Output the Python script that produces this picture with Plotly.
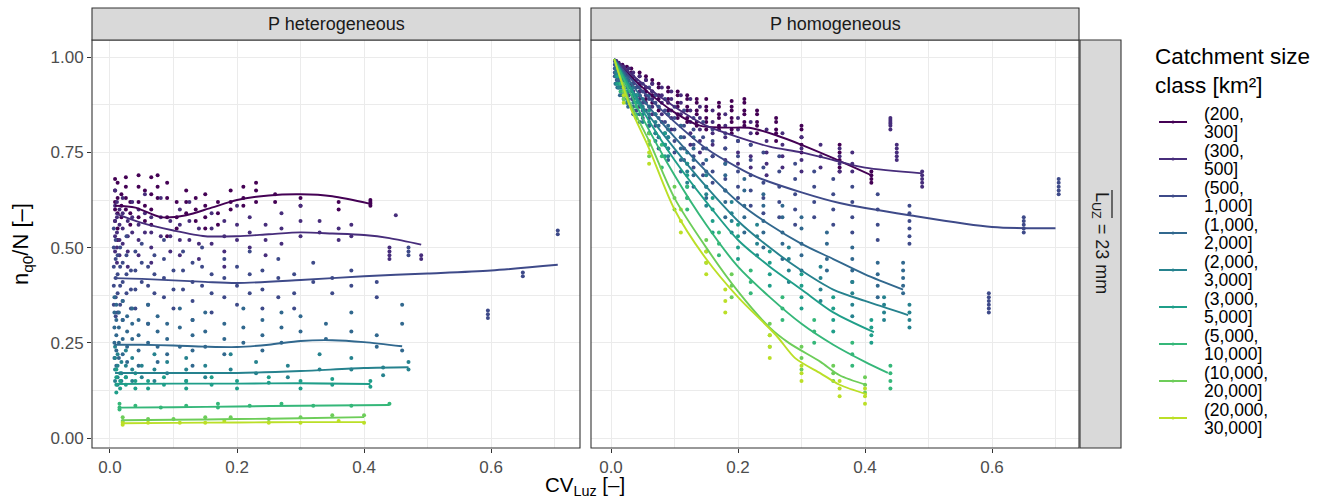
import plotly.graph_objects as go

# ---------------- data ----------------
class_lines1 = ["(200,", "(300,", "(500,", "(1,000,", "(2,000,", "(3,000,", "(5,000,", "(10,000,", "(20,000,"]
class_lines2 = ["300]", "500]", "1,000]", "2,000]", "3,000]", "5,000]", "10,000]", "20,000]", "30,000]"]
colors = ["#440154", "#472D7B", "#3E4A89", "#31688E", "#26828E", "#1F9E89", "#35B779", "#6DCD59", "#BBDF27"]

# class 1 (200,300]
c1_x = [0.008, 0.012, 0.018, 0.025, 0.032, 0.045, 0.055, 0.065, 0.075, 0.09, 0.105, 0.12, 0.135, 0.15, 0.17,
        0.19, 0.21, 0.23, 0.26, 0.30, 0.36, 0.41]
c1_het = [[0.68, 0.65, 0.62, 0.60, 0.57], [0.67, 0.63, 0.59, 0.55, 0.52], [0.64, 0.61, 0.58],
          [0.685, 0.66, 0.63, 0.60], [0.62, 0.59, 0.56], [0.69, 0.66, 0.62, 0.58], [0.65, 0.61, 0.57],
          [0.685, 0.64, 0.60, 0.56], [0.69, 0.66, 0.63], [0.67, 0.63, 0.58, 0.53], [0.62, 0.58, 0.55],
          [0.65, 0.62, 0.59], [0.63, 0.60, 0.57], [0.64, 0.61, 0.58, 0.55], [0.62, 0.59, 0.56], [0.65, 0.62, 0.60],
          [0.66, 0.63, 0.61], [0.67, 0.65, 0.62], [0.64, 0.62], [0.63, 0.61], [0.62, 0.60],
          [0.625, 0.62, 0.615, 0.61]]
c1_hom = [[0.99, 0.985, 0.98, 0.97, 0.96], [0.985, 0.98, 0.97, 0.96, 0.95], [0.98, 0.97, 0.96, 0.95, 0.94],
          [0.975, 0.965, 0.955, 0.94, 0.93], [0.97, 0.96, 0.95, 0.93, 0.92], [0.96, 0.95, 0.93, 0.92, 0.90],
          [0.95, 0.94, 0.92, 0.91, 0.89], [0.94, 0.93, 0.91, 0.90, 0.88], [0.93, 0.92, 0.90, 0.89, 0.87, 0.86],
          [0.92, 0.91, 0.89, 0.88, 0.86, 0.85], [0.91, 0.90, 0.88, 0.87, 0.85, 0.84],
          [0.90, 0.89, 0.87, 0.86, 0.84, 0.83], [0.89, 0.88, 0.86, 0.85, 0.83, 0.82],
          [0.89, 0.87, 0.86, 0.84, 0.83, 0.81], [0.88, 0.87, 0.85, 0.84, 0.82, 0.81],
          [0.885, 0.87, 0.86, 0.84, 0.83, 0.81, 0.80], [0.89, 0.88, 0.86, 0.85, 0.83, 0.82],
          [0.86, 0.85, 0.83, 0.82, 0.80], [0.84, 0.83, 0.81, 0.80, 0.78], [0.82, 0.81, 0.79, 0.77, 0.75],
          [0.77, 0.75, 0.73, 0.71, 0.70], [0.70, 0.69, 0.68, 0.67]]

# class 2 (300,500]
c2_x = [0.008, 0.011, 0.015, 0.02, 0.028, 0.035, 0.045, 0.055, 0.065, 0.08, 0.095, 0.11, 0.125, 0.14, 0.16, 0.18,
        0.20, 0.22, 0.245, 0.27, 0.30, 0.33, 0.36, 0.38, 0.44, 0.45, 0.49]
c2_het = [[0.65, 0.61, 0.57, 0.53, 0.49], [0.62, 0.58, 0.54, 0.50, 0.46], [0.60, 0.56, 0.52, 0.48],
          [0.63, 0.59, 0.55, 0.51], [0.57, 0.53, 0.49, 0.45], [0.62, 0.58, 0.54], [0.60, 0.56, 0.52, 0.48],
          [0.64, 0.59, 0.54], [0.58, 0.54, 0.50, 0.46], [0.63, 0.58, 0.53], [0.57, 0.53, 0.49],
          [0.60, 0.56, 0.52, 0.48], [0.62, 0.57, 0.52], [0.55, 0.51, 0.47], [0.59, 0.55, 0.51],
          [0.57, 0.53, 0.49, 0.45], [0.61, 0.56, 0.52], [0.58, 0.54, 0.50], [0.56, 0.52, 0.48],
          [0.59, 0.55, 0.51], [0.61, 0.57, 0.53], [0.57, 0.54], [0.55, 0.52], [0.56, 0.53],
          [0.50, 0.49, 0.48, 0.47], [0.585], [0.48, 0.47]]
c2_hom = [[0.99, 0.98, 0.97, 0.96, 0.95], [0.985, 0.975, 0.96, 0.95, 0.94], [0.98, 0.97, 0.955, 0.94, 0.93],
          [0.975, 0.96, 0.95, 0.93, 0.92], [0.97, 0.95, 0.94, 0.92, 0.90], [0.96, 0.95, 0.93, 0.91, 0.89],
          [0.95, 0.93, 0.91, 0.89, 0.87], [0.94, 0.92, 0.90, 0.88, 0.86], [0.93, 0.91, 0.89, 0.87, 0.85],
          [0.92, 0.90, 0.88, 0.85, 0.83], [0.91, 0.89, 0.86, 0.84, 0.81], [0.90, 0.88, 0.85, 0.82, 0.79],
          [0.89, 0.86, 0.83, 0.80, 0.77], [0.87, 0.84, 0.81, 0.78, 0.75], [0.86, 0.83, 0.80, 0.77, 0.74],
          [0.85, 0.82, 0.79, 0.76, 0.73], [0.84, 0.81, 0.78, 0.75, 0.72], [0.83, 0.80, 0.77, 0.74, 0.71],
          [0.81, 0.78, 0.75, 0.72, 0.69], [0.80, 0.77, 0.74, 0.71], [0.79, 0.76, 0.73, 0.70], [0.77, 0.74, 0.71],
          [0.76, 0.74, 0.72, 0.70], [0.75, 0.72, 0.70], [0.84, 0.835, 0.83, 0.825, 0.82, 0.81],
          [0.77, 0.76, 0.75, 0.74, 0.73], [0.70, 0.69, 0.68, 0.67, 0.66]]

# class 3 (500,1000]
c3_x = [0.006, 0.009, 0.012, 0.016, 0.02, 0.026, 0.033, 0.04, 0.05, 0.06, 0.07, 0.085, 0.10, 0.115, 0.13, 0.145,
        0.16, 0.18, 0.20, 0.22, 0.24, 0.265, 0.29, 0.32, 0.35, 0.38, 0.42, 0.47, 0.595, 0.65, 0.705]
c3_het = [[0.55, 0.50, 0.45, 0.40, 0.35], [0.52, 0.47, 0.42, 0.37, 0.32], [0.48, 0.43, 0.38, 0.33],
          [0.50, 0.45, 0.40, 0.35], [0.46, 0.41, 0.36, 0.31], [0.53, 0.48, 0.43, 0.38], [0.44, 0.39, 0.34],
          [0.49, 0.44, 0.39, 0.34], [0.51, 0.46, 0.41], [0.45, 0.40, 0.35, 0.30], [0.48, 0.43, 0.38],
          [0.52, 0.47, 0.42, 0.37], [0.44, 0.39, 0.34], [0.49, 0.44, 0.39], [0.46, 0.41, 0.36, 0.31],
          [0.50, 0.45, 0.40], [0.43, 0.38, 0.33], [0.47, 0.42, 0.37], [0.45, 0.40, 0.35], [0.49, 0.43, 0.38],
          [0.44, 0.39, 0.34], [0.47, 0.42, 0.37], [0.43, 0.38, 0.34], [0.46, 0.41], [0.42, 0.38], [0.44, 0.40],
          [0.41, 0.37], [0.50, 0.49, 0.48], [0.335, 0.325, 0.315], [0.435, 0.425], [0.545, 0.535]]
c3_hom = [[0.99, 0.98, 0.97, 0.96, 0.95], [0.985, 0.975, 0.96, 0.95, 0.94], [0.98, 0.97, 0.95, 0.94, 0.92],
          [0.975, 0.96, 0.94, 0.93, 0.91], [0.97, 0.95, 0.93, 0.92, 0.90], [0.96, 0.94, 0.92, 0.90, 0.88],
          [0.95, 0.93, 0.91, 0.89, 0.87], [0.94, 0.92, 0.90, 0.88, 0.86], [0.93, 0.91, 0.88, 0.86, 0.84],
          [0.92, 0.89, 0.87, 0.84, 0.82], [0.90, 0.88, 0.85, 0.82, 0.80], [0.89, 0.86, 0.83, 0.80, 0.77],
          [0.87, 0.84, 0.81, 0.78, 0.75], [0.86, 0.82, 0.79, 0.76, 0.73], [0.84, 0.81, 0.77, 0.74, 0.71],
          [0.83, 0.79, 0.76, 0.72, 0.69], [0.81, 0.78, 0.74, 0.70, 0.67], [0.80, 0.76, 0.72, 0.68, 0.65],
          [0.78, 0.74, 0.70, 0.66, 0.63], [0.77, 0.73, 0.69, 0.65, 0.61], [0.75, 0.71, 0.67, 0.63, 0.59],
          [0.74, 0.70, 0.66, 0.62, 0.58], [0.72, 0.68, 0.64, 0.60, 0.56], [0.70, 0.66, 0.62, 0.58],
          [0.68, 0.64, 0.60, 0.56], [0.66, 0.62, 0.58, 0.54], [0.64, 0.60, 0.56, 0.52],
          [0.61, 0.59, 0.57, 0.55, 0.53, 0.51], [0.38, 0.37, 0.36, 0.35, 0.34, 0.33],
          [0.58, 0.57, 0.56, 0.55, 0.54], [0.68, 0.67, 0.66, 0.65, 0.64]]

# class 4 (1000,2000]
c4_x = [0.007, 0.01, 0.014, 0.02, 0.027, 0.035, 0.045, 0.06, 0.075, 0.09, 0.11, 0.13, 0.15, 0.18, 0.21, 0.24,
        0.27, 0.30, 0.34, 0.38, 0.42, 0.46]
c4_het = [[0.37, 0.33, 0.29, 0.25, 0.21], [0.35, 0.31, 0.27, 0.23, 0.19], [0.33, 0.29, 0.25, 0.21],
          [0.36, 0.31, 0.26, 0.22], [0.32, 0.28, 0.24, 0.20], [0.34, 0.30, 0.26], [0.31, 0.27, 0.23, 0.19],
          [0.35, 0.30, 0.25], [0.32, 0.28, 0.24, 0.20], [0.30, 0.26, 0.22], [0.34, 0.29, 0.24],
          [0.31, 0.27, 0.23, 0.19], [0.33, 0.28, 0.24], [0.30, 0.26, 0.22], [0.34, 0.29, 0.25],
          [0.31, 0.27, 0.23], [0.33, 0.29, 0.25], [0.32, 0.28], [0.30, 0.26], [0.33, 0.28], [0.27, 0.24],
          [0.35, 0.30, 0.23]]
c4_hom = [[0.985, 0.97, 0.96, 0.95, 0.93], [0.98, 0.965, 0.95, 0.94, 0.92], [0.97, 0.955, 0.94, 0.92, 0.90],
          [0.96, 0.94, 0.93, 0.91, 0.89], [0.95, 0.93, 0.91, 0.89, 0.87], [0.94, 0.92, 0.90, 0.87, 0.85],
          [0.92, 0.90, 0.88, 0.85, 0.83], [0.90, 0.87, 0.85, 0.82, 0.80], [0.87, 0.84, 0.82, 0.79, 0.76],
          [0.85, 0.82, 0.79, 0.76, 0.73], [0.82, 0.79, 0.76, 0.73, 0.70], [0.79, 0.76, 0.73, 0.69, 0.66],
          [0.76, 0.73, 0.70, 0.66, 0.63], [0.72, 0.69, 0.65, 0.62, 0.58], [0.68, 0.65, 0.61, 0.58, 0.54],
          [0.64, 0.61, 0.57, 0.54, 0.50], [0.61, 0.58, 0.54, 0.51, 0.47], [0.58, 0.55, 0.51, 0.48, 0.44],
          [0.54, 0.51, 0.47, 0.44], [0.50, 0.47, 0.44, 0.41], [0.46, 0.43, 0.40, 0.37],
          [0.46, 0.44, 0.42, 0.40, 0.38]]

# class 5 (2000,3000]
c5_x = [0.008, 0.012, 0.018, 0.025, 0.035, 0.05, 0.07, 0.09, 0.12, 0.15, 0.19, 0.23, 0.28, 0.33, 0.38, 0.43, 0.47]
c5_het = [[0.24, 0.21, 0.18, 0.15], [0.22, 0.19, 0.16, 0.14], [0.20, 0.17, 0.15], [0.23, 0.19, 0.16],
          [0.21, 0.18, 0.15], [0.19, 0.16], [0.22, 0.18, 0.15], [0.20, 0.17], [0.21, 0.18, 0.15], [0.19, 0.16],
          [0.22, 0.18], [0.20, 0.17], [0.19, 0.16], [0.22, 0.18], [0.21, 0.18], [0.185, 0.165], [0.20, 0.18]]
c5_hom = [[0.98, 0.96, 0.95, 0.93], [0.97, 0.95, 0.93, 0.92], [0.95, 0.94, 0.92, 0.90], [0.94, 0.92, 0.90, 0.88],
          [0.92, 0.90, 0.88, 0.86], [0.89, 0.87, 0.85, 0.83], [0.85, 0.83, 0.80, 0.78], [0.81, 0.79, 0.76, 0.74],
          [0.75, 0.72, 0.70, 0.67], [0.69, 0.66, 0.64, 0.61], [0.62, 0.59, 0.57, 0.54], [0.56, 0.53, 0.51, 0.48],
          [0.50, 0.47, 0.44, 0.41], [0.45, 0.42, 0.39, 0.36], [0.41, 0.38, 0.35, 0.32], [0.37, 0.35, 0.33, 0.31],
          [0.35, 0.33, 0.31, 0.29]]

# class 6 (3000,5000]
c6_x = [0.01, 0.016, 0.025, 0.04, 0.06, 0.085, 0.12, 0.16, 0.20, 0.25, 0.30, 0.35, 0.41]
c6_het = [[0.18, 0.16, 0.14, 0.12], [0.17, 0.15, 0.13], [0.16, 0.14], [0.17, 0.15, 0.13], [0.15, 0.13],
          [0.16, 0.14], [0.15, 0.13], [0.16, 0.14], [0.15, 0.13], [0.16, 0.145], [0.15, 0.13], [0.155, 0.14],
          [0.15, 0.135]]
c6_hom = [[0.97, 0.95, 0.93], [0.95, 0.93, 0.91], [0.93, 0.91, 0.89], [0.90, 0.88, 0.85], [0.86, 0.83, 0.80],
          [0.80, 0.77, 0.74], [0.72, 0.69, 0.66, 0.63], [0.63, 0.60, 0.57, 0.54], [0.56, 0.53, 0.50, 0.47],
          [0.49, 0.46, 0.43, 0.40], [0.43, 0.40, 0.37, 0.34], [0.37, 0.34, 0.31, 0.28], [0.31, 0.29, 0.27, 0.25]]

# class 7 (5000,10000]
c7_x = [0.015, 0.04, 0.08, 0.12, 0.17, 0.22, 0.27, 0.32, 0.38, 0.44]
c7_het = [[0.09, 0.08, 0.075], [0.085], [0.08], [0.085], [0.09, 0.08], [0.085], [0.09], [0.085], [0.085], [0.09]]
c7_hom = [[0.95, 0.93, 0.91], [0.89, 0.87, 0.84], [0.77, 0.74, 0.71], [0.66, 0.63, 0.60], [0.54, 0.51, 0.48],
          [0.44, 0.41, 0.38], [0.37, 0.34, 0.31], [0.31, 0.28, 0.25], [0.25, 0.22, 0.19], [0.19, 0.17, 0.15, 0.13]]

# class 8 (10000,20000]
c8_x = [0.02, 0.06, 0.10, 0.15, 0.19, 0.25, 0.30, 0.35, 0.40]
c8_het = [[0.055, 0.045], [0.05], [0.05], [0.055], [0.055], [0.05], [0.055], [0.06], [0.06]]
c8_hom = [[0.93, 0.91, 0.89], [0.80, 0.77, 0.74], [0.66, 0.63, 0.60], [0.52, 0.49, 0.46], [0.43, 0.40, 0.37],
          [0.30, 0.27, 0.24], [0.24, 0.21, 0.18], [0.19, 0.17, 0.15], [0.16, 0.14, 0.12]]

# class 9 (20000,30000]
c9_x = [0.02, 0.06, 0.11, 0.15, 0.18, 0.25, 0.30, 0.36, 0.40]
c9_het = [[0.04, 0.035], [0.04], [0.04], [0.04], [0.045], [0.04], [0.04], [0.045], [0.04]]
c9_hom = [[0.92, 0.90, 0.88], [0.78, 0.75, 0.72], [0.60, 0.57, 0.54], [0.49, 0.46, 0.43], [0.39, 0.36, 0.33],
          [0.27, 0.24, 0.21], [0.19, 0.17, 0.15], [0.15, 0.13, 0.11], [0.13, 0.11, 0.09]]

# smooth curves, heterogeneous panel
s_het_x = [
    [0.008, 0.04, 0.08, 0.12, 0.16, 0.20, 0.25, 0.30, 0.35, 0.41],
    [0.008, 0.05, 0.10, 0.15, 0.20, 0.25, 0.30, 0.35, 0.40, 0.44, 0.49],
    [0.006, 0.05, 0.10, 0.15, 0.20, 0.30, 0.40, 0.50, 0.60, 0.705],
    [0.007, 0.05, 0.10, 0.15, 0.20, 0.25, 0.30, 0.35, 0.40, 0.46],
    [0.008, 0.10, 0.20, 0.30, 0.40, 0.47],
    [0.01, 0.10, 0.20, 0.30, 0.41],
    [0.015, 0.10, 0.20, 0.30, 0.44],
    [0.02, 0.10, 0.20, 0.30, 0.40],
    [0.02, 0.10, 0.20, 0.30, 0.40],
]
s_het_y = [
    [0.61, 0.605, 0.58, 0.585, 0.605, 0.625, 0.637, 0.64, 0.635, 0.615],
    [0.59, 0.565, 0.545, 0.53, 0.53, 0.535, 0.54, 0.537, 0.533, 0.525, 0.508],
    [0.42, 0.418, 0.414, 0.41, 0.407, 0.415, 0.425, 0.432, 0.44, 0.455],
    [0.245, 0.245, 0.243, 0.24, 0.239, 0.245, 0.255, 0.257, 0.252, 0.241],
    [0.171, 0.171, 0.171, 0.176, 0.184, 0.186],
    [0.142, 0.143, 0.143, 0.144, 0.142],
    [0.08, 0.081, 0.083, 0.085, 0.087],
    [0.047, 0.048, 0.05, 0.052, 0.055],
    [0.039, 0.04, 0.041, 0.042, 0.042],
]
# smooth curves, homogeneous panel
s_hom_x = [
    [0.005, 0.05, 0.10, 0.14, 0.18, 0.22, 0.26, 0.30, 0.35, 0.41],
    [0.005, 0.05, 0.10, 0.15, 0.20, 0.25, 0.30, 0.35, 0.40, 0.49],
    [0.005, 0.05, 0.10, 0.15, 0.20, 0.23, 0.30, 0.36, 0.47, 0.60, 0.70],
    [0.005, 0.05, 0.10, 0.15, 0.20, 0.25, 0.30, 0.35, 0.40, 0.46],
    [0.005, 0.05, 0.10, 0.15, 0.20, 0.25, 0.30, 0.35, 0.40, 0.468],
    [0.005, 0.05, 0.10, 0.15, 0.20, 0.25, 0.30, 0.35, 0.414],
    [0.005, 0.05, 0.10, 0.15, 0.20, 0.25, 0.30, 0.35, 0.40, 0.436],
    [0.005, 0.03, 0.06, 0.10, 0.15, 0.20, 0.25, 0.28, 0.33, 0.36, 0.403],
    [0.005, 0.03, 0.06, 0.10, 0.15, 0.20, 0.26, 0.29, 0.33, 0.36, 0.403],
]
s_hom_y = [
    [0.995, 0.92, 0.855, 0.82, 0.815, 0.814, 0.795, 0.77, 0.735, 0.69],
    [0.995, 0.93, 0.87, 0.82, 0.79, 0.765, 0.75, 0.73, 0.71, 0.695],
    [0.995, 0.91, 0.83, 0.76, 0.71, 0.685, 0.645, 0.617, 0.585, 0.554, 0.551],
    [0.995, 0.89, 0.79, 0.70, 0.62, 0.56, 0.51, 0.47, 0.43, 0.39],
    [0.995, 0.87, 0.76, 0.66, 0.57, 0.50, 0.44, 0.39, 0.36, 0.323],
    [0.995, 0.86, 0.73, 0.62, 0.52, 0.45, 0.39, 0.33, 0.278],
    [0.995, 0.84, 0.69, 0.56, 0.45, 0.37, 0.30, 0.245, 0.20, 0.171],
    [0.995, 0.88, 0.78, 0.63, 0.50, 0.385, 0.29, 0.25, 0.20, 0.165, 0.139],
    [0.995, 0.87, 0.76, 0.60, 0.47, 0.37, 0.27, 0.21, 0.17, 0.14, 0.115],
]

x_ticks = [0.0, 0.2, 0.4, 0.6]
x_ticktext = ["0.0", "0.2", "0.4", "0.6"]
y_ticks = [0.0, 0.25, 0.5, 0.75, 1.0]
y_ticktext = ["0.00", "0.25", "0.50", "0.75", "1.00"]
panel_titles = ["P heterogeneous", "P homogeneous"]
row_label = "L<sub>UZ</sub> = 23 mm"
legend_title = "Catchment size<br>class [km²]"

# ---------------- figure ----------------
W, H = 1326, 502
FONT = "Liberation Sans, Arial, Helvetica, sans-serif"


def px(x):
    return x / W


def py(y):
    return 1 - y / H


all_x = [c1_x, c2_x, c3_x, c4_x, c5_x, c6_x, c7_x, c8_x, c9_x]
all_het = [c1_het, c2_het, c3_het, c4_het, c5_het, c6_het, c7_het, c8_het, c9_het]
all_hom = [c1_hom, c2_hom, c3_hom, c4_hom, c5_hom, c6_hom, c7_hom, c8_hom, c9_hom]

fig = go.Figure()

for stacks_all, xa in [(all_het, "x"), (all_hom, "x2")]:
    for k in range(9):
        xs, ys = [], []
        for xv, stack in zip(all_x[k], stacks_all[k]):
            for yv in stack:
                xs.append(xv)
                ys.append(yv)
        fig.add_trace(go.Scatter(x=xs, y=ys, mode="markers", xaxis=xa, yaxis="y" if xa == "x" else "y2",
                                 marker=dict(size=4, color=colors[k], line=dict(width=0)),
                                 showlegend=False, hoverinfo="skip"))

for sx, sy, xa in [(s_het_x, s_het_y, "x"), (s_hom_x, s_hom_y, "x2")]:
    for k in range(9):
        fig.add_trace(go.Scatter(x=sx[k], y=sy[k], mode="lines", xaxis=xa, yaxis="y" if xa == "x" else "y2",
                                 line=dict(color=colors[k], width=1.9, shape="spline", smoothing=0.8),
                                 showlegend=False, hoverinfo="skip"))

grid_minor_x = dict(dtick=0.1, tick0=0, showgrid=True, gridcolor="#EBEBEB", gridwidth=0.6, ticks="")
grid_minor_y = dict(dtick=0.125, tick0=0, showgrid=True, gridcolor="#EBEBEB", gridwidth=0.6, ticks="")
axis_common = dict(
    showgrid=True, gridcolor="#EBEBEB", gridwidth=1.1,
    zeroline=False, showline=False,
    ticks="outside", ticklen=4, tickwidth=1, tickcolor="#333333",
    tickfont=dict(family=FONT, size=17, color="#4D4D4D"),
    automargin=False,
)

fig.update_layout(
    width=W, height=H,
    margin=dict(l=0, r=0, t=0, b=0),
    paper_bgcolor="white", plot_bgcolor="white",
    font=dict(family=FONT, color="black"),
    showlegend=False,
    xaxis=dict(domain=[px(92), px(580)], range=[-0.0283, 0.740], tickvals=x_ticks, ticktext=x_ticktext,
               minor=grid_minor_x, anchor="y", **axis_common),
    xaxis2=dict(domain=[px(591), px(1079)], range=[-0.0315, 0.737], tickvals=x_ticks, ticktext=x_ticktext,
                minor=grid_minor_x, anchor="y2", **axis_common),
    yaxis=dict(domain=[py(448), py(40)], range=[-0.026, 1.045], tickvals=y_ticks, ticktext=y_ticktext,
               minor=grid_minor_y, anchor="x", **axis_common),
    yaxis2=dict(domain=[py(448), py(40)], range=[-0.026, 1.045], tickvals=y_ticks, showticklabels=False,
                ticks="", showgrid=True, gridcolor="#EBEBEB", gridwidth=1.1, zeroline=False,
                minor=grid_minor_y, anchor="x2", automargin=False),
)

shapes = []
for x0, x1 in [(92, 580), (591, 1079)]:
    shapes.append(dict(type="rect", xref="paper", yref="paper", x0=px(x0), x1=px(x1), y0=py(448), y1=py(40),
                       line=dict(color="#333333", width=1.1), fillcolor="rgba(0,0,0,0)", layer="above"))
    shapes.append(dict(type="rect", xref="paper", yref="paper", x0=px(x0), x1=px(x1), y0=py(40), y1=py(8),
                       line=dict(color="#333333", width=1.1), fillcolor="#D9D9D9", layer="above"))
shapes.append(dict(type="rect", xref="paper", yref="paper", x0=px(1080), x1=px(1121), y0=py(448), y1=py(40),
                   line=dict(color="#333333", width=1.1), fillcolor="#D9D9D9", layer="above"))
# overline on the row strip label
shapes.append(dict(type="line", xref="paper", yref="paper", x0=px(1112), x1=px(1112), y0=py(190), y1=py(218),
                   line=dict(color="#1A1A1A", width=1.2)))

ann = []
for (x0, x1), t in zip([(92, 580), (591, 1079)], panel_titles):
    ann.append(dict(text=t, x=px((x0 + x1) / 2), y=py(24), xref="paper", yref="paper", showarrow=False,
                    font=dict(family=FONT, size=18, color="#1A1A1A"), xanchor="center", yanchor="middle"))
ann.append(dict(text=row_label, x=px(1101), y=py(243), xref="paper", yref="paper", showarrow=False,
                textangle=90, font=dict(family=FONT, size=18, color="#1A1A1A"), xanchor="center",
                yanchor="middle"))
ann.append(dict(text="CV<sub>Luz</sub> [–]", x=px(585), y=py(501), xref="paper", yref="paper", showarrow=False,
                font=dict(family=FONT, size=20.5, color="black"), xanchor="center", yanchor="bottom"))
ann.append(dict(text="n<sub>q0</sub>/N [–]", x=px(22), y=py(244), xref="paper", yref="paper", showarrow=False,
                textangle=-90, font=dict(family=FONT, size=22, color="black"), xanchor="center",
                yanchor="middle"))

# legend (drawn manually to match the compact two-line keys)
ann.append(dict(text=legend_title, x=px(1153), y=py(71), xref="paper", yref="paper", showarrow=False,
                align="left", font=dict(family=FONT, size=22.5, color="black"), xanchor="left",
                yanchor="middle"))
for k in range(9):
    yc = 122 + 37 * k
    shapes.append(dict(type="line", xref="paper", yref="paper", x0=px(1159), x1=px(1187), y0=py(yc), y1=py(yc),
                       line=dict(color=colors[k], width=2)))
    shapes.append(dict(type="circle", xref="paper", yref="paper", x0=px(1171.5), x1=px(1174.5),
                       y0=py(yc + 1.5), y1=py(yc - 1.5), line=dict(width=0), fillcolor=colors[k]))
    ann.append(dict(text=class_lines1[k], x=px(1202), y=py(yc - 8), xref="paper", yref="paper", showarrow=False,
                    font=dict(family=FONT, size=17.5, color="black"), xanchor="left", yanchor="middle"))
    ann.append(dict(text=class_lines2[k], x=px(1202), y=py(yc + 10), xref="paper", yref="paper", showarrow=False,
                    font=dict(family=FONT, size=17.5, color="black"), xanchor="left", yanchor="middle"))

fig.update_layout(shapes=shapes, annotations=ann)

fig.write_html("out.html", config={"displayModeBar": False},
               post_script="document.body.style.margin='0';document.body.style.padding='0';")
